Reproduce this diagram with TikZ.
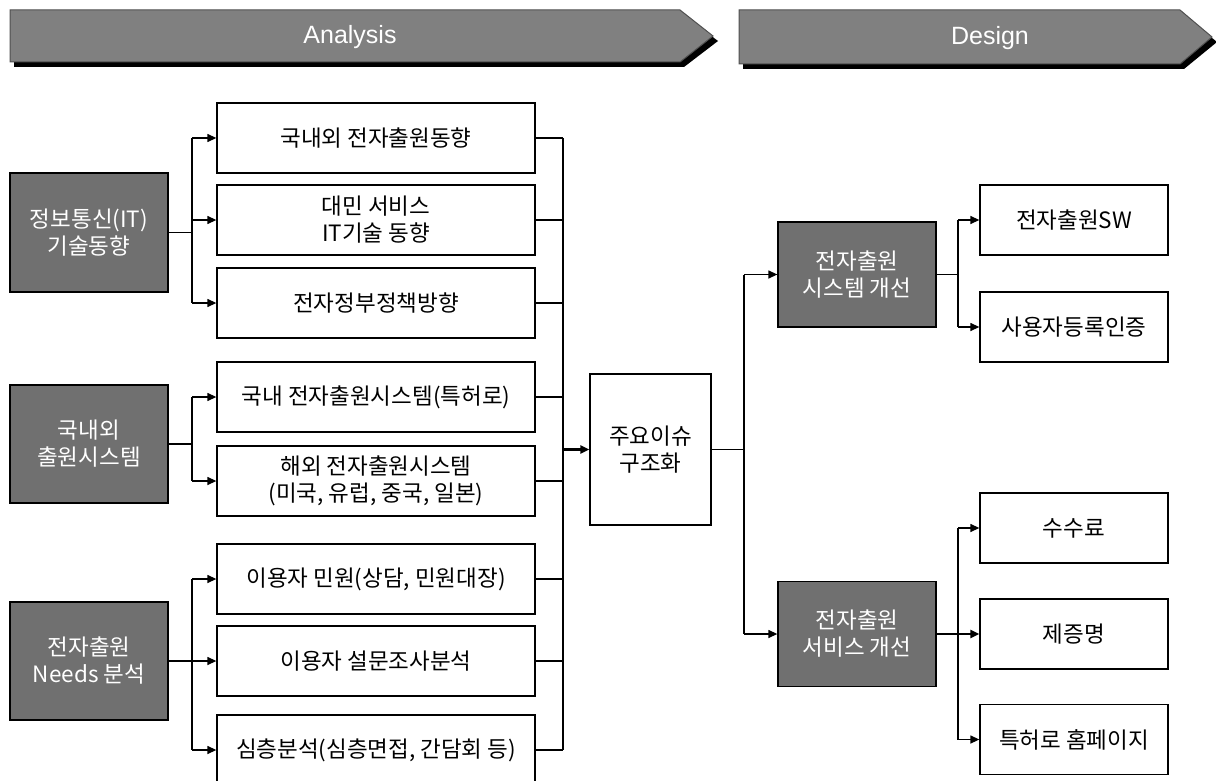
\documentclass[tikz,border=0pt]{standalone}
\usepackage{fontspec}
\setmainfont{Noto Sans CJK KR}
\newfontfamily\latinsans{Liberation Sans}
\usetikzlibrary{arrows.meta}
\definecolor{bannergray}{RGB}{128,128,128}
\definecolor{bannerline}{RGB}{80,80,80}
\definecolor{darkbox}{RGB}{112,112,112}
\begin{document}
\begin{tikzpicture}[x=1pt,y=-1pt,
  txt/.style={font=\fontsize{22.5}{27}\selectfont},
  wbox/.style={txt, draw=black, line width=1.3pt, fill=white, align=center, inner sep=0pt},
  mid/.style={wbox, minimum width=318pt, minimum height=70pt},
  rbox/.style={wbox, minimum width=188pt, minimum height=70pt},
  dbox/.style={txt, draw=black, line width=1.3pt, fill=darkbox, text=white, align=center, inner sep=0pt, minimum width=158pt},
  conn/.style={line width=1.3pt, draw=black},
  arr/.style={conn, -{Triangle[length=9pt,width=8pt]}},
  thickarr/.style={arr, line width=2.2pt},
  bannertext/.style={font=\latinsans\fontsize{25}{29}\selectfont, text=white}
]
\useasboundingbox (0,0) rectangle (1216,781);
\fill[white] (0,0) rectangle (1216,781);

% banners
\fill[black] (14,15) -- (684,15) -- (718,41) -- (684,67) -- (14,67) -- cycle;
\filldraw[fill=bannergray, draw=bannerline, line width=1pt] (10,10) -- (680,10) -- (713,36) -- (680,62) -- (10,62) -- cycle;
\node[bannertext] (analysis) at (350,37) {Analysis};
\fill[black] (743,15) -- (1184,15) -- (1217,42) -- (1184,69) -- (743,69) -- cycle;
\filldraw[fill=bannergray, draw=bannerline, line width=1pt] (739,10) -- (1180,10) -- (1212,37) -- (1180,64) -- (739,64) -- cycle;
\node[bannertext] (design) at (990,38) {Design};

% left dark boxes
\node[dbox, minimum height=119pt] (A) at (89,232.5) {정보통신(IT)\\기술동향};
\node[dbox, minimum height=118pt] (B) at (89,444) {국내외\\출원시스템};
\node[dbox, minimum height=118pt] (C) at (89,661) {전자출원\\Needs 분석};

% middle boxes
\node[mid] (b1) at (376,138) {국내외 전자출원동향};
\node[mid] (b2) at (376,220) {대민 서비스\\IT기술 동향};
\node[mid] (b3) at (376,303) {전자정부정책방향};
\node[mid] (b4) at (376,397) {국내 전자출원시스템(특허로)};
\node[mid] (b5) at (376,481) {해외 전자출원시스템\\(미국, 유럽, 중국, 일본)};
\node[mid] (b6) at (376,579) {이용자 민원(상담, 민원대장)};
\node[mid] (b7) at (376,661) {이용자 설문조사분석};
\node[mid] (b8) at (376,750) {심층분석(심층면접, 간담회 등)};

% key issue box
\node[wbox, minimum width=121pt, minimum height=151pt] (key) at (650.5,449.5) {주요이슈\\구조화};

% design boxes
\node[dbox, minimum height=105pt] (s1) at (857,274.5) {전자출원\\시스템 개선};
\node[dbox, minimum height=105pt] (s2) at (857,634) {전자출원\\서비스 개선};
\node[rbox] (r1) at (1074,220) {전자출원SW};
\node[rbox] (r2) at (1074,327) {사용자등록인증};
\node[rbox] (r3) at (1074,528) {수수료};
\node[rbox] (r4) at (1074,634) {제증명};
\node[rbox] (r5) at (1074,739.5) {특허로 홈페이지};

% bus coordinates
\coordinate (busL) at (192,0);
\coordinate (busR) at (563,0);
\coordinate (busK) at (744,0);
\coordinate (busS) at (958,0);

% left fan-outs
\draw[conn] (A.east) -- (A.east -| busL);
\draw[conn] (busL |- b1.west) -- (busL |- b3.west);
\foreach \b in {b1,b2,b3} \draw[arr] (busL |- \b.west) -- (\b.west);
\draw[conn] (B.east) -- (B.east -| busL);
\draw[conn] (busL |- b4.west) -- (busL |- b5.west);
\foreach \b in {b4,b5} \draw[arr] (busL |- \b.west) -- (\b.west);
\draw[conn] (C.east) -- (C.east -| busL);
\draw[conn] (busL |- b6.west) -- (busL |- b8.west);
\foreach \b in {b6,b7,b8} \draw[arr] (busL |- \b.west) -- (\b.west);

% right collector
\foreach \b in {b1,b2,b3,b4,b5,b6,b7,b8} \draw[conn] (\b.east) -- (\b.east -| busR);
\draw[conn] (busR |- b1.east) -- (busR |- b8.east);
\draw[thickarr] (busR |- key.west) -- (key.west);

% key to design
\draw[conn] (key.east) -- (key.east -| busK);
\draw[conn] (busK |- s1.west) -- (busK |- s2.west);
\draw[arr] (busK |- s1.west) -- (s1.west);
\draw[arr] (busK |- s2.west) -- (s2.west);

% s1 fan-out
\draw[conn] (s1.east) -- (s1.east -| busS);
\draw[conn] (busS |- r1.west) -- (busS |- r2.west);
\foreach \r in {r1,r2} \draw[arr] (busS |- \r.west) -- (\r.west);

% s2 fan-out
\draw[conn] (busS |- r3.west) -- (busS |- r5.west);
\draw[arr] (busS |- r3.west) -- (r3.west);
\draw[arr] (busS |- r5.west) -- (r5.west);
\draw[thickarr] (s2.east) -- (r4.west);
\end{tikzpicture}
\end{document}
